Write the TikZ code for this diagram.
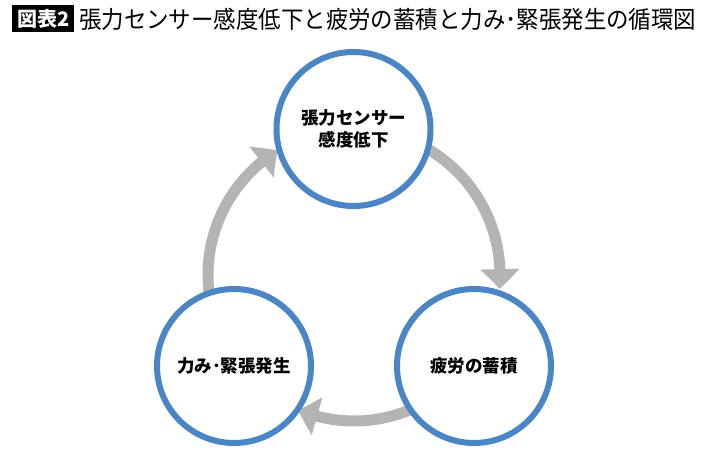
\documentclass[tikz,border=0pt]{standalone}
\usepackage{fontspec}
\newfontfamily\jp{Noto Sans CJK JP}
\usetikzlibrary{arrows.meta,bending}
\definecolor{ringblue}{RGB}{74,134,198}
\definecolor{arrowgray}{RGB}{180,180,180}
\begin{document}
\begin{tikzpicture}[x=1pt,y=1pt,
  ring/.style={circle,draw=ringblue,line width=6pt,fill=white,minimum size=154pt,inner sep=0pt,align=center,
    font=\jp\bfseries\fontsize{17.5}{21.5}\selectfont},
  cyc/.style={draw=arrowgray,line width=11pt,-{Triangle[width=38pt,length=20pt,bend]}}]
\useasboundingbox (0,0) rectangle (710,451);
\fill[white] (0,0) rectangle (710,451);
% title
\node[fill=black,text=white,minimum width=62pt,minimum height=27pt,inner sep=0pt,anchor=west,
  font=\jp\bfseries\fontsize{20}{20}\selectfont] (tag) at (12,432.5) {図表2};
\node[anchor=west,inner sep=0pt,xscale=0.935,font=\jp\fontsize{24}{24}\selectfont] (title) at (79,432)
  {張力センサー感度低下と疲労の蓄積と力み･緊張発生の循環図};
% arrows (behind circles)
\coordinate (C) at (354,176);
\draw[cyc] (C) ++(190:146) coordinate (s1) arc[start angle=190,end angle=121.5,radius=146] coordinate (e1);
\draw[cyc] (C) ++(62:146) coordinate (s2) arc[start angle=62,end angle=-5.5,radius=146] coordinate (e2);
\draw[cyc] (C) ++(-60:146) coordinate (s3) arc[start angle=-60,end angle=-112.5,radius=146] coordinate (e3);
% circles
\node[ring] (top) at (353.5,322) {張力センサー\\感度低下};
\node[ring] (bl) at (234,85) {力み･緊張発生};
\node[ring] (br) at (474,85) {疲労の蓄積};
\end{tikzpicture}
\end{document}
